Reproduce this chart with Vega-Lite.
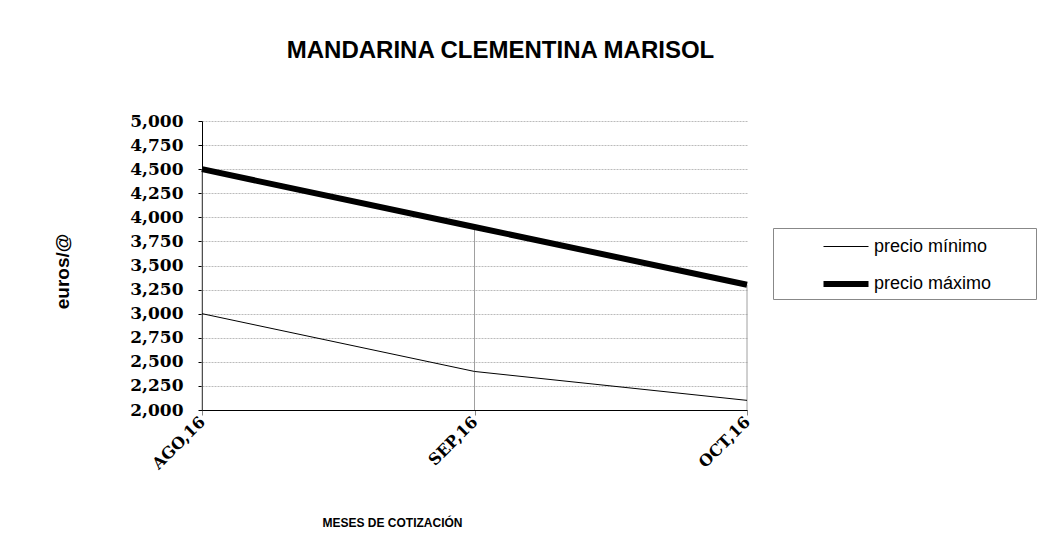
{
  "$schema": "https://vega.github.io/schema/vega-lite/v6.json",
  "autosize": "none",
  "width": 545,
  "height": 289,
  "padding": {"left": 202, "top": 121, "right": 300, "bottom": 150},
  "background": "white",
  "config": {"view": {"stroke": null}},
  "title": {
    "text": "MANDARINA CLEMENTINA MARISOL",
    "font": "Liberation Sans",
    "fontSize": 24,
    "fontWeight": "bold",
    "color": "#000000",
    "anchor": "middle",
    "dx": 26,
    "offset": 49
  },
  "data": {
    "values": [
      {"mes": "AGO,16", "serie": "precio mínimo", "valor": 3.0},
      {"mes": "SEP,16", "serie": "precio mínimo", "valor": 2.4},
      {"mes": "OCT,16", "serie": "precio mínimo", "valor": 2.1},
      {"mes": "AGO,16", "serie": "precio máximo", "valor": 4.5},
      {"mes": "SEP,16", "serie": "precio máximo", "valor": 3.9},
      {"mes": "OCT,16", "serie": "precio máximo", "valor": 3.3}
    ]
  },
  "encoding": {
    "x": {
      "field": "mes",
      "type": "ordinal",
      "sort": ["AGO,16", "SEP,16", "OCT,16"],
      "scale": {"type": "point", "padding": 0},
      "axis": {
        "title": "MESES DE COTIZACIÓN",
        "titleFont": "Liberation Sans",
        "titleFontSize": 12,
        "titleFontWeight": "bold",
        "titleColor": "#000000",
        "titleX": 190,
        "titleY": 112,
        "titleAlign": "center",
        "titleBaseline": "middle",
        "labelAngle": -45,
        "labelAlign": "right",
        "labelBaseline": "middle",
        "labelFont": "DejaVu Serif",
        "labelFontWeight": "bold",
        "labelFontSize": 16,
        "labelColor": "#000000",
        "labelPadding": 4,
        "domainColor": "#000000",
        "domainWidth": 1,
        "tickColor": "#888888",
        "tickSize": 5,
        "grid": false
      }
    },
    "y": {
      "field": "valor",
      "type": "quantitative",
      "scale": {"domain": [2, 5], "nice": false, "zero": false},
      "axis": {
        "title": "euros/@",
        "titleFont": "Liberation Sans",
        "titleFontSize": 19,
        "titleFontWeight": "bold",
        "titleColor": "#000000",
        "titleX": -140,
        "titleY": 150,
        "titleAngle": -90,
        "titleAlign": "center",
        "titleBaseline": "middle",
        "values": [2, 2.25, 2.5, 2.75, 3, 3.25, 3.5, 3.75, 4, 4.25, 4.5, 4.75, 5],
        "labelExpr": "replace(format(datum.value, '.3f'), '.', ',')",
        "labelFont": "DejaVu Serif",
        "labelFontWeight": "bold",
        "labelFontSize": 17,
        "labelColor": "#000000",
        "labelPadding": 15,
        "domainColor": "#000000",
        "tickColor": "#000000",
        "tickSize": 4,
        "grid": true,
        "gridColor": "#bbbbbb",
        "gridDash": [2, 1],
        "gridWidth": 1
      }
    }
  },
  "layer": [
    {
      "transform": [{"filter": "datum.serie === 'precio máximo'"}],
      "mark": {"type": "rule", "color": "#a0a0a0", "strokeWidth": 1},
      "encoding": {
        "y2": {"datum": 2}
      }
    },
    {
      "mark": {"type": "line", "strokeCap": "butt"},
      "encoding": {
        "color": {
          "field": "serie",
          "type": "nominal",
          "sort": ["precio mínimo", "precio máximo"],
          "scale": {"domain": ["precio mínimo", "precio máximo"], "range": ["#000000", "#000000"]},
          "legend": {
            "title": "MMM",
            "titleOrient": "right",
            "titleAngle": 0,
            "titleOpacity": 0,
            "titleFontSize": 15,
            "titlePadding": 4,
            "orient": "none",
            "legendX": 571,
            "legendY": 107,
            "strokeColor": "#888888",
            "fillColor": "white",
            "padding": 3,
            "symbolOffset": 52,
            "symbolType": "M-1.5,0H1.5",
            "symbolSize": 900,
            "labelFont": "Liberation Sans",
            "labelFontSize": 18,
            "labelColor": "#000000",
            "labelOffset": 10,
            "rowPadding": 10
          }
        },
        "strokeWidth": {
          "field": "serie",
          "type": "nominal",
          "sort": ["precio mínimo", "precio máximo"],
          "scale": {"domain": ["precio mínimo", "precio máximo"], "range": [1, 6]},
          "legend": {
            "title": "MMM",
            "titleOrient": "right",
            "titleAngle": 0,
            "titleOpacity": 0,
            "titleFontSize": 15,
            "titlePadding": 4,
            "orient": "none",
            "legendX": 571,
            "legendY": 107,
            "strokeColor": "#888888",
            "fillColor": "white",
            "padding": 3,
            "symbolOffset": 52,
            "symbolType": "M-1.5,0H1.5",
            "symbolSize": 900,
            "labelFont": "Liberation Sans",
            "labelFontSize": 18,
            "labelColor": "#000000",
            "labelOffset": 10,
            "rowPadding": 10
          }
        }
      }
    }
  ]
}
